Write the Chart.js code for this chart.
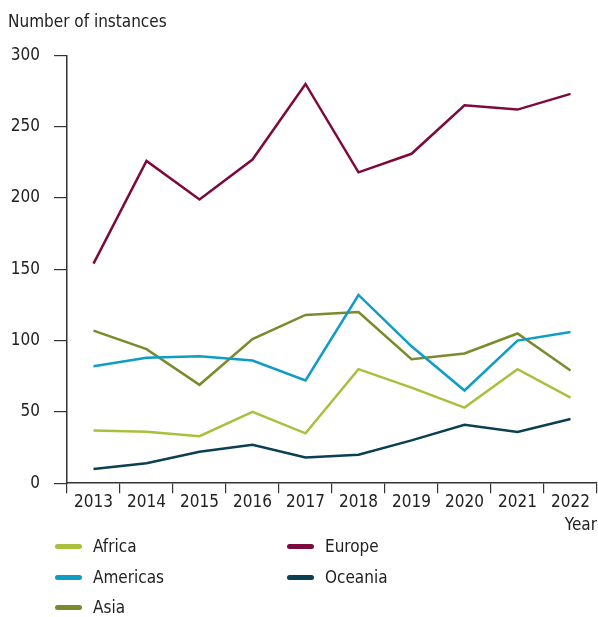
<!DOCTYPE html>
<html>
<head>
<meta charset="utf-8">
<script src="https://cdn.jsdelivr.net/npm/chart.js@4/dist/chart.umd.min.js"></script>
<style>
  html, body { margin: 0; padding: 0; background: #fff; }
  #wrap { position: relative; width: 598px; height: 617px; overflow: hidden; }
  #chart { position: absolute; left: 0; top: 0; }
  #legend { position: absolute; left: 0; top: 0; width: 598px; height: 617px; pointer-events: none; }
  .item { position: absolute; height: 24px; display: flex; align-items: center;
          font-family: 'Liberation Sans Narrow', 'DejaVu Sans Condensed', 'Roboto Condensed', Roboto, sans-serif;
          font-size: 17px; color: #222; }
  .swatch { width: 27px; height: 5px; border-radius: 3px; margin-right: 11px; }
</style>
</head>
<body>
<div id="wrap">
  <canvas id="chart" width="598" height="536"></canvas>
  <div id="legend"></div>
</div>
<script>
  'use strict';

  const years = ['2013', '2014', '2015', '2016', '2017', '2018', '2019', '2020', '2021', '2022'];

  const africa = [37, 36, 33, 50, 35, 80, 67, 53, 80, 60];
  const americas = [82, 88, 89, 86, 72, 132, 96, 65, 100, 106];
  const asia = [107, 94, 69, 101, 118, 120, 87, 91, 105, 79];
  const europe = [154, 226, 199, 227, 280, 218, 231, 265, 262, 273];
  const oceania = [10, 14, 22, 27, 18, 20, 30, 41, 36, 45];

  const yTicks = [0, 50, 100, 150, 200, 250, 300];

  const fontFamily = "'Liberation Sans Narrow', 'DejaVu Sans Condensed', 'Roboto Condensed', Roboto, sans-serif";
  const ink = '#222';
  const axisColor = '#333';

  const series = [
    {label: 'Africa', data: africa, color: '#a9c03e'},
    {label: 'Americas', data: americas, color: '#0f9dc6'},
    {label: 'Asia', data: asia, color: '#7a8a2c'},
    {label: 'Europe', data: europe, color: '#7d0a3d'},
    {label: 'Oceania', data: oceania, color: '#0b3f52'},
  ];

  const datasets = series.map(s => {
    return {
      label: s.label,
      data: s.data,
      borderColor: s.color,
      backgroundColor: s.color,
      borderWidth: 2.5,
      pointRadius: 0,
      tension: 0,
      fill: false,
    }
  });

  const chart = new Chart(
    document.getElementById('chart'),
    {
      type: 'line',
      data: {labels: years, datasets: datasets},
      options: {
        responsive: false,
        animation: false,
        devicePixelRatio: 1,
        layout: {padding: {left: 8, right: 1, top: 12, bottom: 0}},
        font: {family: fontFamily},
        plugins: {
          legend: {display: false},
          tooltip: {enabled: false},
          title: {
            display: true,
            text: 'Number of instances',
            align: 'start',
            color: ink,
            font: {family: fontFamily, size: 17, weight: 'normal'},
            padding: {top: 0, bottom: 23},
          },
        },
        scales: {
          x: {
            type: 'category',
            offset: true,
            grid: {
              offset: true,
              drawOnChartArea: false,
              drawTicks: true,
              tickLength: 10,
              color: axisColor,
              lineWidth: 1.2,
            },
            border: {display: true, color: axisColor, width: 1.5},
            ticks: {
              color: ink,
              font: {family: fontFamily, size: 17},
              padding: -1,
              maxRotation: 0,
            },
            title: {
              display: true,
              text: 'Year',
              align: 'end',
              color: ink,
              font: {family: fontFamily, size: 17},
              padding: {top: 4, bottom: 0},
            },
          },
          y: {
            min: 0,
            max: 300,
            afterBuildTicks: axis => {
              axis.ticks = yTicks.map(v => ({value: v}));
            },
            afterFit: axis => {
              axis.width = 59;
            },
            grid: {
              drawOnChartArea: false,
              drawTicks: true,
              tickLength: 13,
              color: axisColor,
              lineWidth: 1.2,
            },
            border: {display: true, color: axisColor, width: 1.5},
            ticks: {
              color: ink,
              font: {family: fontFamily, size: 17},
              padding: 14,
            },
          },
        },
      },
    }
  );

  // legend in two columns, built from the chart's datasets
  const legendSlots = {
    'Africa': [55, 534],
    'Americas': [55, 565],
    'Asia': [55, 595],
    'Europe': [287, 534],
    'Oceania': [287, 565],
  };
  const legend = document.getElementById('legend');
  chart.data.datasets.forEach(ds => {
    const slot = legendSlots[ds.label];
    const item = document.createElement('div');
    item.className = 'item';
    item.style.left = slot[0] + 'px';
    item.style.top = slot[1] + 'px';
    const sw = document.createElement('span');
    sw.className = 'swatch';
    sw.style.background = ds.borderColor;
    const txt = document.createElement('span');
    txt.textContent = ds.label;
    item.appendChild(sw);
    item.appendChild(txt);
    legend.appendChild(item);
  });
</script>
</body>
</html>
